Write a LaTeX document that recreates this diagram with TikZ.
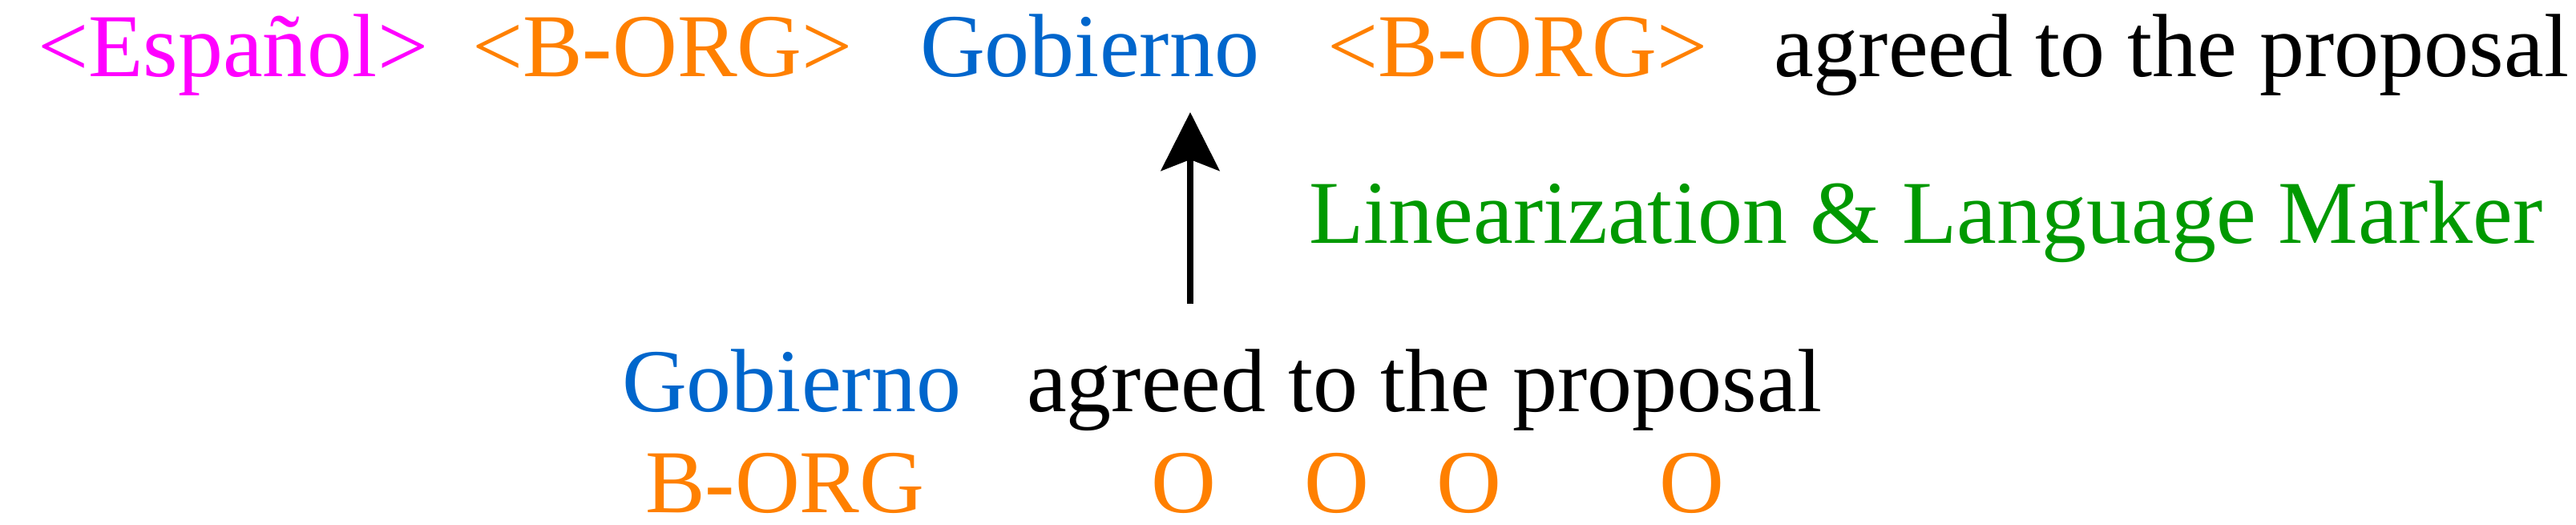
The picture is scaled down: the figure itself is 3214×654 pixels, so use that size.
\documentclass[tikz,border=0pt]{standalone}
\usepackage{fontspec}
\setmainfont{Liberation Serif}
\usetikzlibrary{arrows.meta}
\definecolor{cmag}{RGB}{255,0,255}
\definecolor{corg}{RGB}{255,128,0}
\definecolor{cblue}{RGB}{0,102,204}
\definecolor{cgreen}{RGB}{0,153,0}
\begin{document}
\begin{tikzpicture}[x=1pt,y=1pt,
  txt/.style={anchor=base west,inner sep=0pt,outer sep=0pt,font=\fontsize{112pt}{134pt}\selectfont},
  ctxt/.style={anchor=base,inner sep=0pt,outer sep=0pt,font=\fontsize{112pt}{134pt}\selectfont},
  bigarrow/.style={line width=8pt,-{Stealth[length=73pt,width=73pt,inset=14pt]}}]
\useasboundingbox (0,0) rectangle (3214,-654);
% top line
\node[txt,text=cmag] (lang) at (47,-95) {<Español>};
\node[txt,text=corg] (open) at (589,-95) {<B-ORG>};
\node[txt,text=cblue] (gobtop) at (1148,-95) {Gobierno};
\node[txt,text=corg] (close) at (1656,-95) {<B-ORG>};
\node[txt,text=black] (resttop) at (2213,-95) {agreed to the proposal};
% label
\node[txt,text=cgreen] (label) at (1633,-303) {Linearization \& Language Marker};
% middle line
\node[txt,text=cblue] (gobmid) at (776,-513) {Gobierno};
\node[txt,text=black] (restmid) at (1281,-513) {agreed to the proposal};
% bottom tags
\node[txt,text=corg] (tagb) at (805,-639) {B-ORG};
\node[ctxt,text=corg] (tago1) at (1477,-639) {O};
\node[ctxt,text=corg] (tago2) at (1668,-639) {O};
\node[ctxt,text=corg] (tago3) at (1833,-639) {O};
\node[ctxt,text=corg] (tago4) at (2111,-639) {O};
% arrow
\coordinate (arrtail) at (1485,-379);
\coordinate (arrtip) at (1485,-140);
\draw[bigarrow] (arrtail) -- (arrtip);
\end{tikzpicture}
\end{document}
